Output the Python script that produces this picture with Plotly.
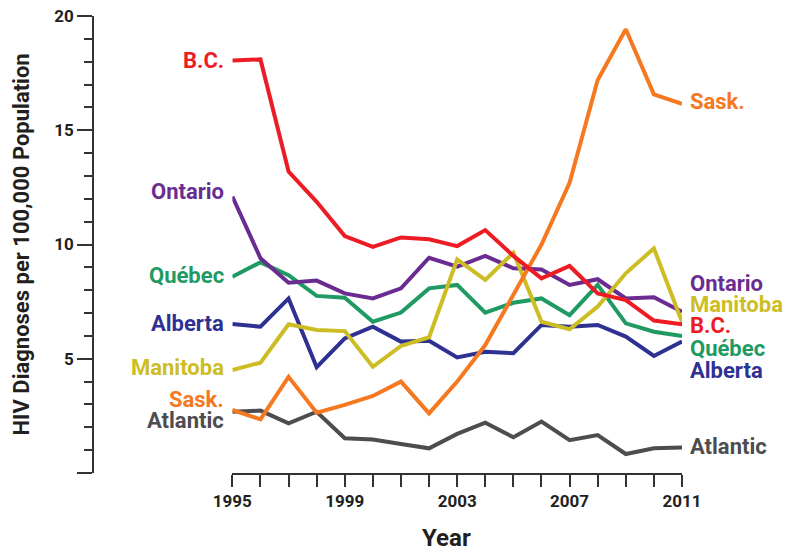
import plotly.graph_objects as go

years = list(range(1995, 2012))

bc = [18.05, 18.1, 13.19, 11.87, 10.37, 9.9, 10.31, 10.23, 9.93, 10.63, 9.5, 8.52, 9.06, 7.86, 7.57, 6.67, 6.51]
ontario = [12.1, 9.4, 8.33, 8.42, 7.86, 7.64, 8.08, 9.42, 9.03, 9.5, 8.96, 8.91, 8.23, 8.48, 7.64, 7.69, 7.06]
quebec = [8.59, 9.22, 8.66, 7.75, 7.67, 6.62, 7.02, 8.08, 8.23, 7.02, 7.45, 7.64, 6.91, 8.23, 6.55, 6.18, 6.0]
alberta = [6.52, 6.4, 7.64, 4.63, 5.89, 6.4, 5.75, 5.79, 5.06, 5.31, 5.24, 6.48, 6.4, 6.48, 5.97, 5.12, 5.75]
manitoba = [4.51, 4.83, 6.51, 6.26, 6.21, 4.65, 5.56, 5.94, 9.35, 8.45, 9.64, 6.62, 6.29, 7.28, 8.74, 9.83, 6.62]
sask = [2.76, 2.35, 4.21, 2.64, 2.98, 3.37, 4.0, 2.61, 4.0, 5.6, 7.8, 10.0, 12.7, 17.2, 19.42, 16.57, 16.15]
atlantic = [2.68, 2.73, 2.17, 2.68, 1.52, 1.47, 1.27, 1.08, 1.71, 2.2, 1.56, 2.25, 1.44, 1.66, 0.83, 1.08, 1.12]

x_tick_labels = ["1995", "1999", "2003", "2007", "2011"]
y_tick_vals = [0, 5, 10, 15, 20]
y_tick_text = ["", "5", "10", "15", "20"]

# name, values, colour, left-label y (value), right-label y (value)
series = [
    ("Atlantic", atlantic, "#4D4D4F", 2.28, 1.15),
    ("Alberta", alberta, "#2E3192", 6.55, 4.5),
    ("Québec", quebec, "#1F9A62", 8.65, 5.45),
    ("Ontario", ontario, "#6A2C91", 12.3, 8.3),
    ("Manitoba", manitoba, "#CDBD24", 4.6, 7.38),
    ("Sask.", sask, "#F47920", 3.23, 16.25),
    ("B.C.", bc, "#ED1C24", 18.05, 6.45),
]

TXT = "#231F20"
FONT = "Roboto"
LBL = 22

fig = go.Figure()
for name, vals, col, _, _ in series:
    fig.add_trace(go.Scatter(x=years, y=vals, mode="lines", name=name,
                             line=dict(color=col, width=4), showlegend=False,
                             hoverinfo="skip"))

annotations = []
for name, vals, col, ly, ry in series:
    annotations.append(dict(x=1995, y=ly, xref="x", yref="y", text=name,
                            showarrow=False, xanchor="right", yanchor="middle",
                            xshift=-6, font=dict(family=FONT, size=LBL, color=col, weight="bold")))
    annotations.append(dict(x=2011, y=ry, xref="x", yref="y", text=name,
                            showarrow=False, xanchor="left", yanchor="middle",
                            xshift=6, font=dict(family=FONT, size=LBL, color=col, weight="bold")))

annotations.append(dict(x=-0.1206, y=0.5, xref="paper", yref="paper",
                        text="HIV Diagnoses per 100,000 Population", textangle=-90,
                        showarrow=False, xanchor="center", yanchor="middle",
                        font=dict(family=FONT, size=22, color=TXT, weight="bold")))
annotations.append(dict(x=0.6, y=-0.142, xref="paper", yref="paper",
                        text="Year", showarrow=False, xanchor="center", yanchor="middle",
                        font=dict(family=FONT, size=24, color=TXT, weight="bold")))

fig.update_layout(
    width=800, height=554,
    margin=dict(l=85, r=126, t=8, b=89, autoexpand=False),
    plot_bgcolor="white", paper_bgcolor="white",
    annotations=annotations,
    xaxis=dict(domain=[0.2366, 1], range=[1995, 2011], showgrid=False, zeroline=False,
               automargin=False, ticklabeloverflow="allow",
               showline=True, linecolor="#333333", linewidth=1.5,
               ticks="outside", ticklen=12, tickwidth=1.5, tickcolor="#333333",
               tickvals=years,
               ticktext=[str(y) if str(y) in x_tick_labels else "" for y in years],
               tickfont=dict(family=FONT, size=17, color=TXT, weight="bold")),
    yaxis=dict(range=[0, 20], anchor="free", position=0, showgrid=False, zeroline=False,
               automargin=False, ticklabeloverflow="allow",
               showline=True, linecolor="#333333", linewidth=1.5,
               ticks="outside", ticklen=15, tickwidth=1.5, tickcolor="#333333",
               tickvals=y_tick_vals, ticktext=y_tick_text,
               tickfont=dict(family=FONT, size=17, color=TXT, weight="bold"),
               minor=dict(dtick=1, ticks="outside", ticklen=8, tickwidth=1.5, tickcolor="#333333")),
)

fig.write_html("out.html")
